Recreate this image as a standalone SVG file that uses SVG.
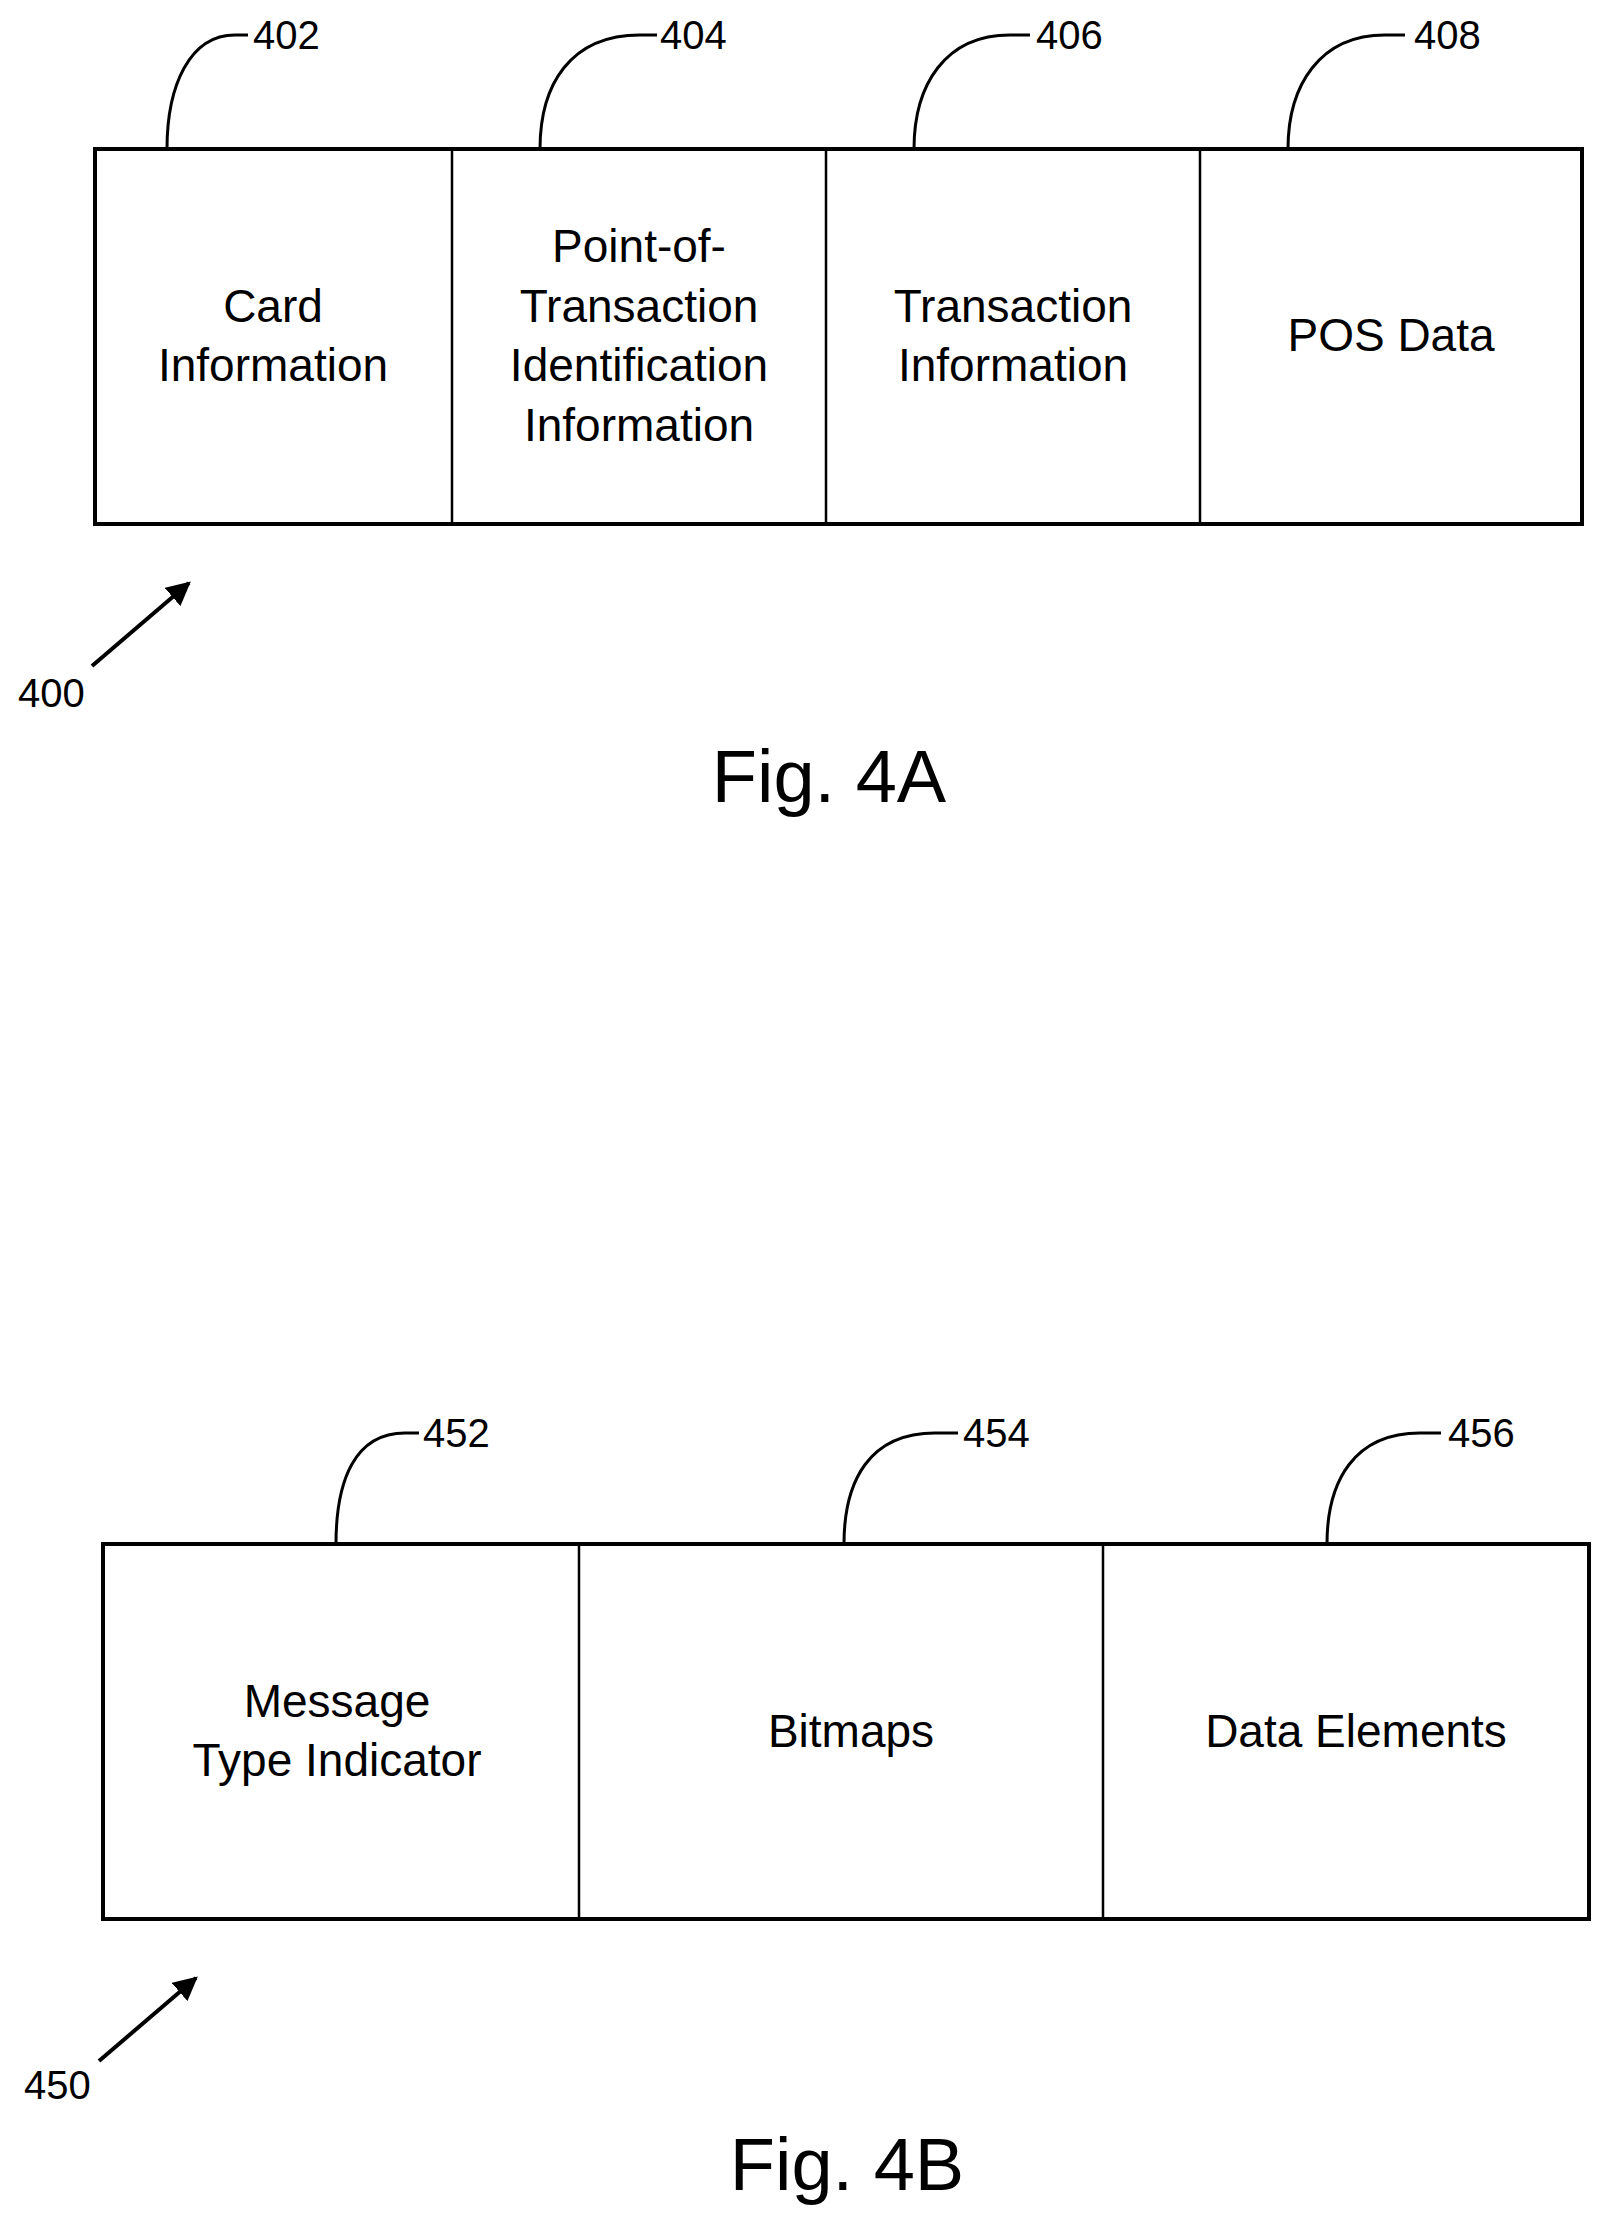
<svg xmlns="http://www.w3.org/2000/svg" width="1616" height="2226" viewBox="0 0 1616 2226">
<defs>
<style>
.t{font-family:"Liberation Sans",Arial,sans-serif;fill:#000;text-anchor:middle}
.lb{font-size:46px}
.ref{font-family:"Liberation Sans",Arial,sans-serif;font-size:40px;fill:#000}
.fig{font-size:74px}
.box{fill:#fff;stroke:#000;stroke-width:4}
.div{stroke:#000;stroke-width:2.5}
.ld{fill:none;stroke:#000;stroke-width:3}
.ar{fill:none;stroke:#000;stroke-width:4}
</style>
<marker id="ah" viewBox="0 0 10 10" refX="9" refY="5" markerWidth="6" markerHeight="6" orient="auto"><path d="M0,0 L10,5 L0,10 z" fill="#000"/></marker>
</defs>
<rect width="1616" height="2226" fill="#fff"/>
<g id="fig4a-frame"><rect class="box" x="95" y="149" width="1487" height="375"/></g>
<g id="n402"><text class="t lb" x="273" y="322">Card</text><text class="t lb" x="273" y="381">Information</text></g>
<g id="n404"><line class="div" x1="452" y1="149" x2="452" y2="524"/><text class="t lb" x="639" y="262">Point-of-</text><text class="t lb" x="639" y="322">Transaction</text><text class="t lb" x="639" y="381">Identification</text><text class="t lb" x="639" y="441">Information</text></g>
<g id="n406"><line class="div" x1="826" y1="149" x2="826" y2="524"/><text class="t lb" x="1013" y="322">Transaction</text><text class="t lb" x="1013" y="381">Information</text></g>
<g id="n408"><line class="div" x1="1200" y1="149" x2="1200" y2="524"/><text class="t lb" x="1391" y="351">POS Data</text></g>
<g id="fig4b-frame"><rect class="box" x="103" y="1544" width="1486" height="375"/></g>
<g id="n452"><text class="t lb" x="337" y="1717">Message</text><text class="t lb" x="337" y="1776">Type Indicator</text></g>
<g id="n454"><line class="div" x1="579" y1="1544" x2="579" y2="1919"/><text class="t lb" x="851" y="1747">Bitmaps</text></g>
<g id="n456"><line class="div" x1="1103" y1="1544" x2="1103" y2="1919"/><text class="t lb" x="1356" y="1747">Data Elements</text></g>
<g id="connectors">
<path class="ld" d="M167,149 C167,85 190,35 235,35 L248,35"/>
<path class="ld" d="M540,149 C540,85 570,35 640,35 L657,35"/>
<path class="ld" d="M914,149 C914,85 945,35 1010,35 L1030,35"/>
<path class="ld" d="M1288,149 C1288,85 1320,35 1385,35 L1405,35"/>
<path class="ld" d="M336,1544 C336,1480 355,1433 405,1433 L419,1433"/>
<path class="ld" d="M844,1544 C844,1480 870,1433 935,1433 L958,1433"/>
<path class="ld" d="M1327,1544 C1327,1480 1355,1433 1420,1433 L1441,1433"/>
<line class="ar" x1="92" y1="666" x2="189" y2="583" marker-end="url(#ah)"/>
<line class="ar" x1="99" y1="2061" x2="196" y2="1978" marker-end="url(#ah)"/>
</g>
<g id="labels">
<text class="ref" x="253" y="49">402</text>
<text class="ref" x="660" y="49">404</text>
<text class="ref" x="1036" y="49">406</text>
<text class="ref" x="1414" y="49">408</text>
<text class="ref" x="18" y="707">400</text>
<text class="ref" x="423" y="1447">452</text>
<text class="ref" x="963" y="1447">454</text>
<text class="ref" x="1448" y="1447">456</text>
<text class="ref" x="24" y="2099">450</text>
<text class="t fig" x="829" y="802">Fig. 4A</text>
<text class="t fig" x="847" y="2190">Fig. 4B</text>
</g>
</svg>
